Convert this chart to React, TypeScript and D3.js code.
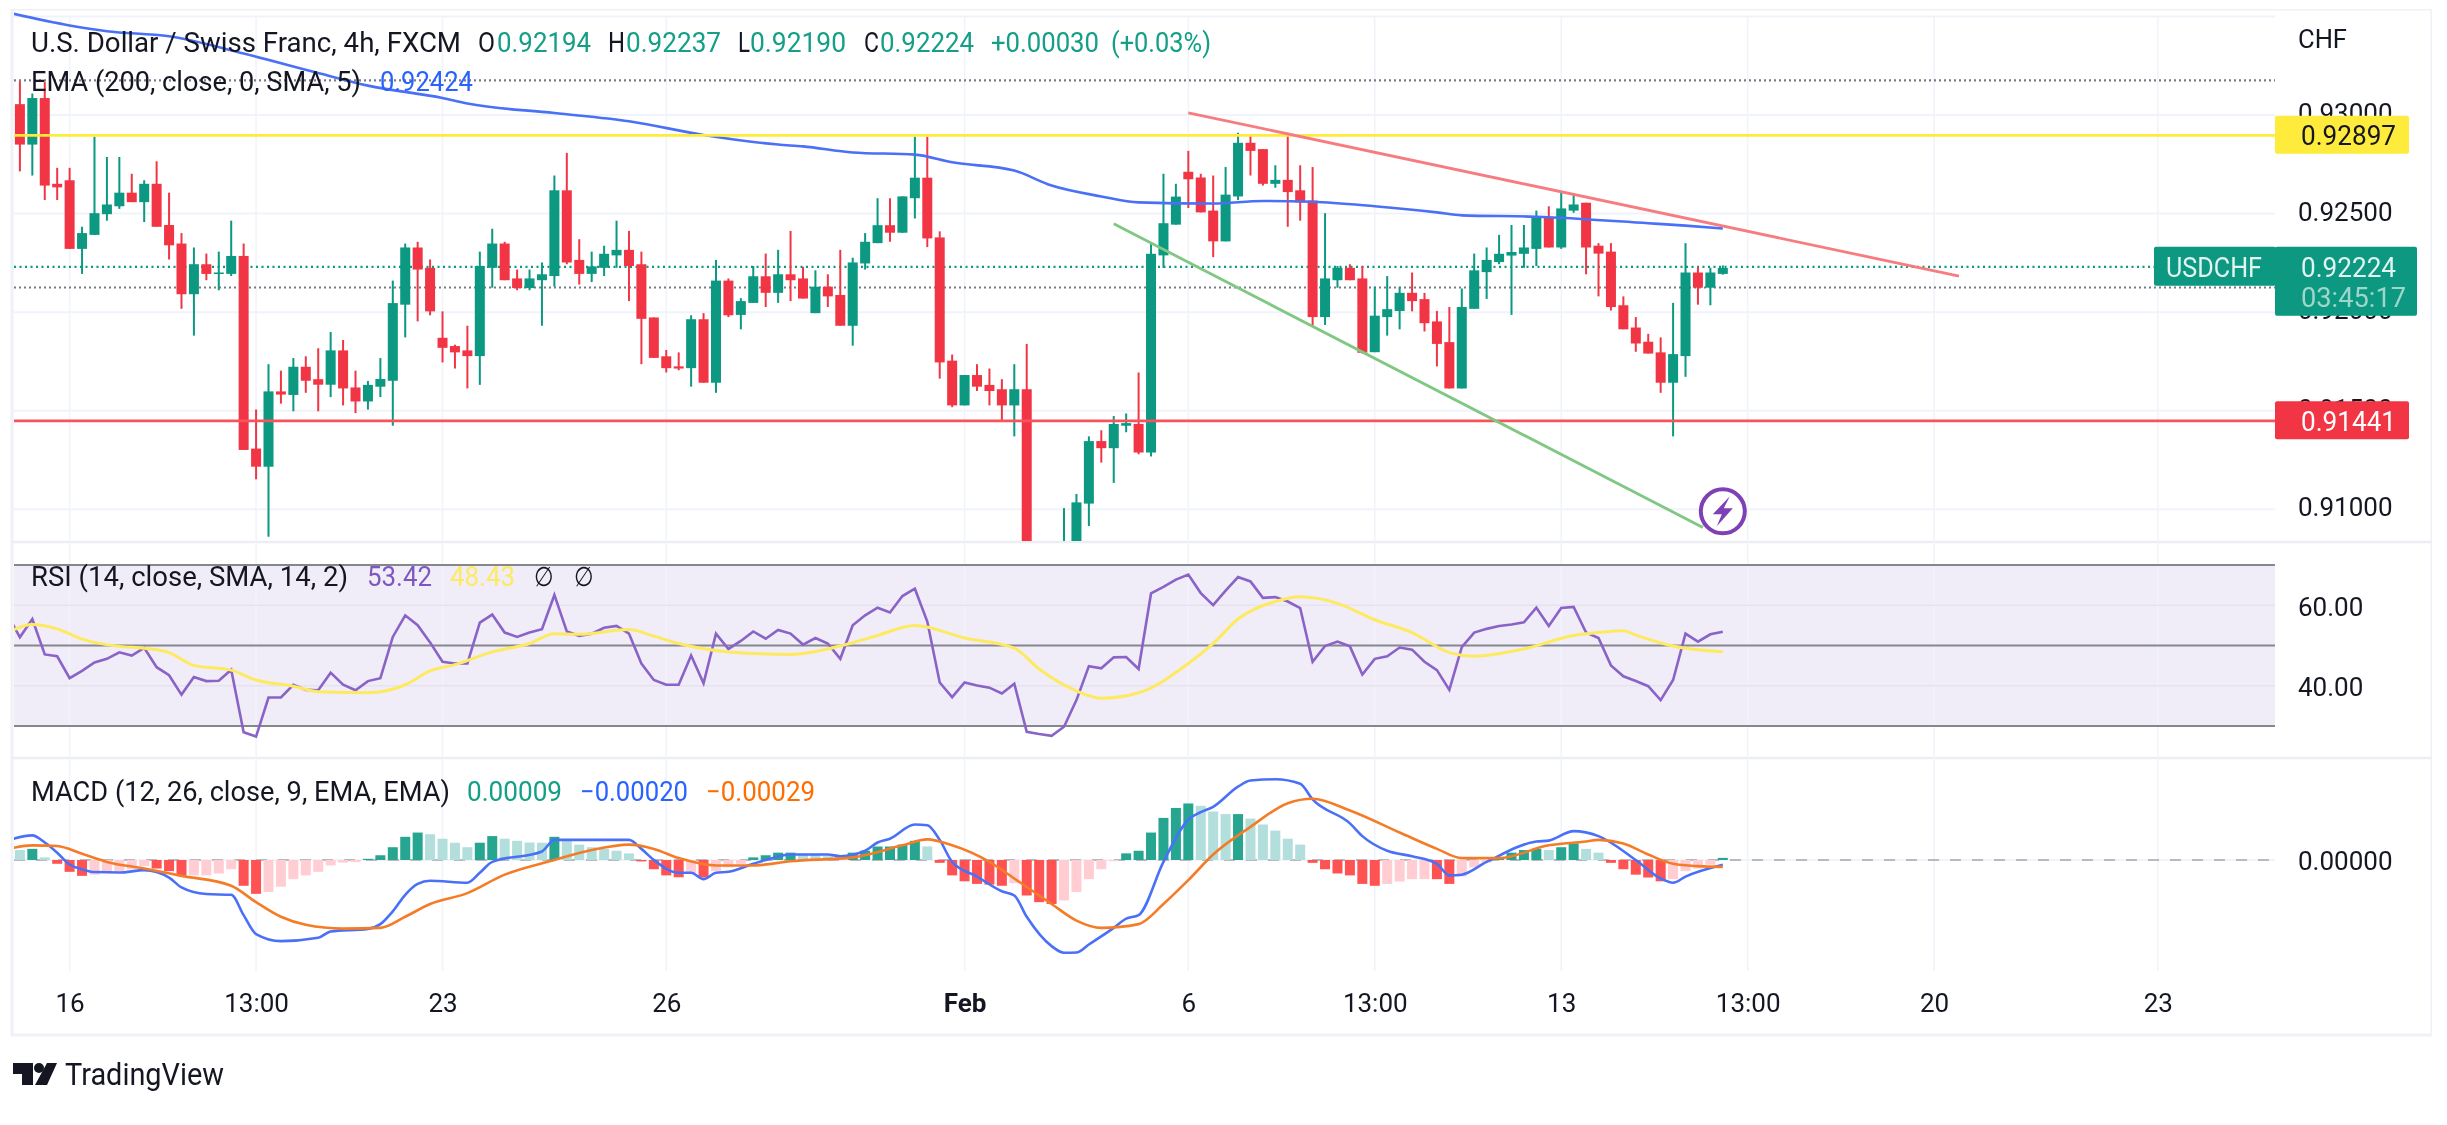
import React, { useEffect, useRef } from 'react';
import * as d3 from 'd3';

// prices are in 1e-5 CHF
const opens = [93055,92850,93086,92651,92669,92321,92392,92497,92537,92606,92558,92651,92442,92348,92091,92243,92194,92194,92285,91308,91216,91598,91580,91723,91660,91632,91806,91618,91547,91622,91652,92038,92328,92225,91870,91828,91806,91777,92225,92348,92171,92122,92162,92183,92618,92265,92194,92225,92288,92316,92243,91973,91776,91725,91716,91964,91642,92160,91986,92047,92182,92098,92192,92171,91995,92129,92087,91931,92247,92350,92441,92403,92578,92682,92379,91754,91527,91681,91631,91609,91527,91609,90780,90650,90700,90800,91029,91346,91310,91424,91433,91288,92288,92444,92712,92683,92515,92359,92587,92859,92827,92651,92671,92618,92566,91975,92162,92225,92171,91797,91975,92006,92098,92066,91953,91848,91613,92017,92203,92254,92287,92296,92321,92484,92328,92515,92555,92337,92307,92035,91922,91850,91796,91642,91777,92201,92124,92194];
const closes = [92850,93086,92642,92633,92321,92401,92502,92546,92606,92558,92651,92433,92339,92091,92243,92194,92201,92285,91301,91216,91598,91582,91723,91652,91632,91806,91613,91547,91631,91661,92046,92328,92216,92004,91819,91796,91777,92234,92348,92162,92122,92171,92192,92618,92252,92194,92232,92296,92316,92234,91966,91768,91716,91714,91964,91642,92160,91984,92056,92182,92098,92192,92162,92069,92129,92080,91931,92252,92357,92441,92403,92587,92682,92374,91745,91527,91681,91622,91600,91527,91609,90780,90700,90740,90800,91035,91346,91310,91433,91437,91288,92296,92451,92586,92674,92506,92359,92596,92859,92818,92651,92671,92609,92557,91975,92171,92225,92162,91794,91982,92015,92098,92056,91944,91839,91613,92026,92212,92265,92296,92305,92328,92484,92328,92526,92546,92328,92297,92026,91913,91841,91790,91642,91787,92201,92124,92201,92224];
const highs = [93171,93109,93167,92732,92732,92433,92890,92787,92787,92702,92669,92765,92606,92401,92328,92297,92307,92464,92348,91506,91736,91703,91767,91776,91817,91899,91859,91703,91651,91767,92160,92348,92357,92267,92004,91835,91931,92307,92423,92357,92216,92216,92252,92693,92808,92370,92307,92337,92464,92412,92307,91973,91808,91796,91984,91995,92265,92171,92071,92234,92297,92316,92412,92230,92212,92192,92316,92276,92401,92578,92578,92587,92890,92890,92410,91785,91681,91736,91714,91660,91736,91839,90810,90790,91006,91078,91370,91401,91473,91486,91694,92346,92702,92651,92818,92702,92693,92736,92910,92901,92827,92745,92910,92745,92736,92502,92234,92243,92234,92129,92183,92129,92201,92098,92006,92026,92120,92297,92328,92392,92442,92442,92515,92537,92609,92596,92555,92350,92350,92080,91975,91890,91872,92047,92350,92229,92225,92237];
const lows = [92714,92693,92569,92569,92321,92194,92392,92464,92524,92558,92457,92433,92267,92017,91881,92162,92111,92183,91301,91152,90861,91536,91497,91591,91497,91569,91527,91488,91506,91569,91424,91872,91953,91984,91745,91714,91613,91631,92124,92162,92111,92111,91931,92129,92243,92140,92153,92183,92225,92056,91736,91768,91694,91705,91622,91642,91591,91975,91913,92047,92026,92047,92056,92069,91995,92026,91931,91830,92216,92350,92357,92403,92475,92330,91663,91518,91527,91600,91527,91449,91370,90760,90650,90610,90680,90757,90915,91237,91134,91391,91279,91268,92225,92444,92528,92506,92279,92359,92569,92693,92642,92631,92433,92464,91926,91935,92124,92162,91790,91797,91881,91913,92004,91902,91725,91613,91613,92017,92067,92243,91986,92225,92234,92328,92321,92504,92192,92080,92008,91913,91799,91790,91591,91370,91672,92038,92035,92190];

// EMA 200, read at its bends
const emaBars = [-1,4,7,12,18,24,28,34,36,43,49,55,61,63,67,72,75,80,83,87,90,96,100,104,109,114,116,122,131,134,137];
const emaValues = [93520,93454,93425,93399,93312,93213,93149,93086,93058,93010,92968,92899,92850,92841,92810,92799,92760,92718,92642,92587,92557,92551,92564,92560,92537,92506,92491,92484,92451,92439,92424];

// first RSI value belongs to the bar before the left edge
const rsiValues = [57.67,52.04,56.58,47.78,47.33,41.88,43.7,45.79,46.69,48.32,47.51,49.41,44.61,42.61,37.8,42.16,41.16,41.25,43.97,28.46,27.37,37.08,37.08,40.25,38.98,38.89,43.25,40.25,38.89,41.16,41.88,52.13,57.49,55.04,50.77,45.97,45.51,45.51,55.67,57.67,53.22,52.13,53.22,54.04,62.56,53.49,52.41,52.95,54.4,54.85,52.95,45.51,41.43,40.25,40.25,47.51,40.62,52.95,49.14,51.14,53.49,51.68,53.86,52.95,50.23,51.86,50.5,46.69,55.04,57.49,59.39,58.21,62.29,64.11,55.94,40.8,37.17,40.8,40.07,39.53,38.08,40.52,28.55,28.01,27.55,29.82,36.44,44.88,44.33,47.06,47.15,44.15,62.93,64.56,66.37,67.64,63.02,60.03,63.65,67.01,65.92,61.84,62.02,60.93,59.3,45.97,49.87,50.96,49.78,42.79,46.69,47.33,49.5,48.96,45.97,43.88,38.98,49.59,53.22,54.13,54.85,55.22,55.76,59.39,54.85,59.3,59.57,53.22,51.86,45.06,42.34,41.16,39.89,36.44,41.43,52.95,50.96,52.77,53.42];
const rsiSmaBars = [-1,1,3,5,8,10,12,14,17,19,22,24,28,31,33,35,38,41,43,45,49,51,53,57,62,66,69,72,76,80,82,85,87,90,94,96,98,101,103,106,109,112,115,117,121,125,127,129,130,133,137];
const rsiSmaValues = [53.2,55.22,54.13,51.59,49.78,49.32,48.23,45.06,43.88,41.43,39.89,38.53,38.26,40.25,43.7,45.24,48.41,50.5,52.95,52.77,53.95,52.32,50.5,48.41,47.78,49.87,52.5,54.95,51.86,49.32,44.15,38.71,36.9,38.26,45.51,50.5,56.58,60.93,62.11,60.48,56.4,53.22,48.23,47.33,49.14,52.5,53.22,53.68,52.59,49.87,48.43];

// MACD values are in 1e-5
const macdBars = [-1,1,2,3,4,5,6,8,10,12,13,15,17,18,19,21,24,25,28,29,30,31,32,33,36,37,38,42,43,49,50,51,53,54,55,56,57,59,60,62,65,66,68,69,70,72,73,74,75,77,79,80,81,83,84,85,86,88,89,90,92,94,95,96,98,99,101,103,104,107,108,110,112,114,115,116,118,122,123,125,127,130,132,133,134,137];
const macdValues = [82,104,74,31,-19,-39,-51,-53,-43,-74,-116,-144,-147,-233,-313,-343,-329,-302,-291,-271,-217,-147,-101,-88,-96,-54,-8,36,85,85,47,0,-54,-54,-81,-54,-50,-16,0,23,23,16,39,74,90,150,147,85,-8,-70,-132,-150,-240,-364,-392,-391,-357,-287,-248,-233,-8,171,202,225,310,336,341,322,256,155,101,39,16,-16,-65,-62,-8,78,82,122,101,0,-78,-96,-70,-20];
const signalBars = [-1,1,3,5,7,10,13,17,19,21,23,26,29,31,33,36,39,43,46,49,51,53,56,59,62,67,71,73,75,78,80,83,85,87,90,92,94,96,99,102,104,107,111,114,116,119,123,126,127,129,131,133,135,137];
const signalValues = [46,62,59,26,-8,-36,-67,-109,-178,-240,-274,-290,-287,-240,-186,-140,-62,0,42,65,47,8,-23,-23,-5,11,62,87,62,-8,-78,-186,-256,-287,-271,-186,-85,23,140,240,259,209,116,47,8,8,62,78,85,70,23,-16,-26,-29];
const histValues = [42,47,11,-16,-50,-67,-62,-51,-47,-39,-26,-36,-47,-65,-65,-65,-57,-39,-109,-143,-135,-113,-81,-65,-50,-23,-11,-9,5,20,54,98,116,109,90,73,54,73,101,90,81,74,73,98,81,65,54,47,39,28,-6,-39,-65,-73,-54,-74,-47,-31,-16,11,20,31,31,23,23,16,11,31,39,57,57,65,81,57,-12,-65,-90,-101,-104,-109,-98,-150,-178,-186,-171,-135,-81,-39,-5,28,39,116,178,220,239,229,205,194,194,175,150,124,90,65,-12,-39,-57,-65,-101,-109,-101,-91,-81,-81,-81,-101,-70,-31,-11,5,31,42,47,42,54,70,47,31,-12,-39,-62,-74,-90,-81,-47,-36,-20,9];
const histStrong = [1,3,4,5,11,12,13,18,19,28,29,30,31,32,37,38,43,50,51,52,53,55,59,60,61,62,67,68,69,70,71,72,74,75,76,77,78,79,81,82,83,89,90,91,92,93,94,98,104,105,106,107,108,109,114,115,119,120,121,122,124,125,128,129,130,131,132,137];

const timeBars = [4,19,34,52,76,94,109,124,139,154,172];
const timeLabels = ['16','13:00','23','26','Feb','6','13:00','13','13:00','20','23'];
const priceGrid = [0.935,0.93,0.925,0.92,0.915,0.91];
const priceTicks = [0.93,0.925,0.92,0.915,0.91];
const rsiGrid = [60,40];
const rsiBands = [70,50,30];

const resistance = 0.92897;
const support = 0.91449;
const lastPrice = 0.9223;
const dottedLevels = [0.93176,0.92125];
const redTrendBars = [94,156];
const redTrendValues = [0.93011,0.92183];
const greenTrendBars = [88,135.4];
const greenTrendValues = [0.92448,0.90908];

const UP = '#089981';
const DOWN = '#f23645';
const FONT = 'Roboto, sans-serif';
const TEXT = '#131722';

const App: React.FC = () => {
  const chartRef = useRef<SVGSVGElement | null>(null);

  useEffect(() => {
    if (!chartRef.current) return;
    const root = d3.select(chartRef.current);
    root.selectAll('*').remove();

    const left = 14;
    const right = 2275;
    const priceTop = 10;
    const priceBottom = 541;
    const macdTop = 758;
    const gridBottom = 971;

    const x = d3.scaleLinear().domain([0, 172]).range([19.9, 19.9 + 172 * 12.43]);
    const y = d3.scaleLinear().domain([0.91, 0.93]).range([509.3, 115]);
    const yRsi = d3.scaleLinear().domain([30, 70]).range([726, 565]);
    const yMacd = d3.scaleLinear().domain([-400, 400]).range([860 + 400 * 0.2366, 860 - 400 * 0.2366]);

    const defs = root.append('defs');
    defs.append('clipPath').attr('id', 'price-clip').append('rect')
      .attr('x', left).attr('y', priceTop).attr('width', right - left).attr('height', priceBottom - priceTop);
    defs.append('clipPath').attr('id', 'rsi-clip').append('rect')
      .attr('x', left).attr('y', 543).attr('width', right - left).attr('height', 213);
    defs.append('clipPath').attr('id', 'macd-clip').append('rect')
      .attr('x', left).attr('y', macdTop).attr('width', right - left).attr('height', gridBottom - macdTop);
    defs.append('filter').attr('id', 'soft').attr('x', 0).attr('y', 0).attr('width', 1).attr('height', 1)
      .append('feGaussianBlur').attr('stdDeviation', 0.7);

    root.append('rect').attr('width', 2447).attr('height', 1125).attr('fill', '#fff');
    const svg = root.append('g').attr('filter', 'url(#soft)');

    // frame and pane separators
    svg.append('rect').attr('x', 12).attr('y', 9).attr('width', 2420).attr('height', 1026)
      .attr('fill', 'none').attr('stroke', '#eff1f6').attr('stroke-width', 3);
    [priceBottom + 1, macdTop].forEach((sy) => {
      svg.append('line').attr('x1', 12).attr('x2', 2432).attr('y1', sy).attr('y2', sy)
        .attr('stroke', '#eceef4').attr('stroke-width', 2.5);
    });

    // RSI band background
    svg.append('rect').attr('x', left).attr('y', yRsi(70)).attr('width', right - left)
      .attr('height', yRsi(30) - yRsi(70)).attr('fill', '#f0edf8');

    // grid
    svg.append('g').selectAll('line').data(timeBars).enter().append('line')
      .attr('x1', (d) => x(d)).attr('x2', (d) => x(d)).attr('y1', 16).attr('y2', gridBottom)
      .attr('stroke', '#f0f3fa').attr('stroke-width', 1.5);
    svg.append('g').selectAll('line').data(priceGrid).enter().append('line')
      .attr('x1', left).attr('x2', right).attr('y1', (d) => y(d)).attr('y2', (d) => y(d))
      .attr('stroke', '#f0f3fa').attr('stroke-width', 2);
    svg.append('g').selectAll('line').data(rsiGrid).enter().append('line')
      .attr('x1', left).attr('x2', right).attr('y1', (d) => yRsi(d)).attr('y2', (d) => yRsi(d))
      .attr('stroke', '#e6e3ef').attr('stroke-width', 1.5);
    svg.append('g').selectAll('line').data(rsiBands).enter().append('line')
      .attr('x1', left).attr('x2', right).attr('y1', (d) => yRsi(d)).attr('y2', (d) => yRsi(d))
      .attr('stroke', '#85878f').attr('stroke-width', 2.2);

    // levels behind the candles
    dottedLevels.forEach((p) => {
      svg.append('line').attr('x1', left).attr('x2', right).attr('y1', y(p)).attr('y2', y(p))
        .attr('stroke', '#787b86').attr('stroke-width', 2.2).attr('stroke-dasharray', '2 3');
    });
    svg.append('line').attr('x1', left).attr('x2', right).attr('y1', y(lastPrice)).attr('y2', y(lastPrice))
      .attr('stroke', UP).attr('stroke-width', 2.2).attr('stroke-dasharray', '2 3.5');

    // candles
    const pricePane = svg.append('g').attr('clip-path', 'url(#price-clip)');
    const bars = d3.range(opens.length);
    const col = (i: number) => (closes[i] >= opens[i] ? UP : DOWN);
    pricePane.append('g').selectAll('line').data(bars).enter().append('line')
      .attr('x1', (i) => x(i)).attr('x2', (i) => x(i))
      .attr('y1', (i) => y(highs[i] / 1e5)).attr('y2', (i) => y(lows[i] / 1e5))
      .attr('stroke', col).attr('stroke-width', 2);
    pricePane.append('g').selectAll('rect').data(bars).enter().append('rect')
      .attr('x', (i) => x(i) - 5)
      .attr('y', (i) => y(Math.max(opens[i], closes[i]) / 1e5))
      .attr('width', 10)
      .attr('height', (i) => Math.max(1.5, Math.abs(y(opens[i] / 1e5) - y(closes[i] / 1e5))))
      .attr('fill', col);

    // EMA
    const emaLine = d3.line<number>()
      .x((b) => x(b))
      .y((_, i) => y(emaValues[i] / 1e5))
      .curve(d3.curveMonotoneX);
    pricePane.append('path').attr('d', emaLine(emaBars)).attr('fill', 'none')
      .attr('stroke', '#4a70f6').attr('stroke-width', 2.6);

    // horizontal levels
    pricePane.append('line').attr('x1', left).attr('x2', right).attr('y1', y(resistance)).attr('y2', y(resistance))
      .attr('stroke', '#ffeb3b').attr('stroke-width', 2.8);
    pricePane.append('line').attr('x1', left).attr('x2', right).attr('y1', y(support)).attr('y2', y(support))
      .attr('stroke', '#f7525f').attr('stroke-width', 2.8);

    // trend lines
    pricePane.append('line')
      .attr('x1', x(redTrendBars[0])).attr('y1', y(redTrendValues[0]))
      .attr('x2', x(redTrendBars[1])).attr('y2', y(redTrendValues[1]))
      .attr('stroke', '#f77c80').attr('stroke-width', 2.8);
    pricePane.append('line')
      .attr('x1', x(greenTrendBars[0])).attr('y1', y(greenTrendValues[0]))
      .attr('x2', x(greenTrendBars[1])).attr('y2', y(greenTrendValues[1]))
      .attr('stroke', '#81c784').attr('stroke-width', 2.8);

    // flash icon
    const icon = svg.append('g').attr('transform', `translate(${x(137)},${y(0.9099)})`);
    icon.append('circle').attr('r', 22).attr('fill', '#fff').attr('stroke', '#7e3fb5').attr('stroke-width', 4);
    icon.append('path').attr('d', 'M7,-15 L-10,3 L-1,3 L-6,15 L10,-3 L1,-3 Z').attr('fill', '#7e3fb5');

    // RSI
    const rsiPane = svg.append('g').attr('clip-path', 'url(#rsi-clip)');
    const rsiLine = d3.line<number>().x((_, i) => x(i - 1)).y((d) => yRsi(d));
    rsiPane.append('path').attr('d', rsiLine(rsiValues)).attr('fill', 'none')
      .attr('stroke', '#8a63c7').attr('stroke-width', 2.6);
    const smaLine = d3.line<number>()
      .x((b) => x(b))
      .y((_, i) => yRsi(rsiSmaValues[i]))
      .curve(d3.curveMonotoneX);
    rsiPane.append('path').attr('d', smaLine(rsiSmaBars)).attr('fill', 'none')
      .attr('stroke', '#fdea60').attr('stroke-width', 3);

    // MACD
    const macdPane = svg.append('g');
    macdPane.append('line').attr('x1', left).attr('x2', right).attr('y1', yMacd(0)).attr('y2', yMacd(0))
      .attr('stroke', '#f0f3fa').attr('stroke-width', 2);
    macdPane.append('line').attr('x1', left).attr('x2', right).attr('y1', yMacd(0)).attr('y2', yMacd(0))
      .attr('stroke', '#b8bac2').attr('stroke-width', 2).attr('stroke-dasharray', '11 11');
    macdPane.append('g').selectAll('rect').data(histValues).enter().append('rect')
      .attr('x', (_, i) => x(i) - 5)
      .attr('y', (d) => Math.min(yMacd(d), yMacd(0)))
      .attr('width', 10)
      .attr('height', (d) => Math.abs(yMacd(d) - yMacd(0)))
      .attr('fill', (d, i) => {
        const strong = histStrong.includes(i);
        if (d >= 0) return strong ? '#26a690' : '#b2dfdb';
        return strong ? '#ff5252' : '#ffcdd2';
      });
    const sigLine = d3.line<number>()
      .x((b) => x(b))
      .y((_, i) => yMacd(signalValues[i]))
      .curve(d3.curveMonotoneX);
    const macLine = d3.line<number>()
      .x((b) => x(b))
      .y((_, i) => yMacd(macdValues[i]))
      .curve(d3.curveMonotoneX);
    macdPane.append('path').attr('clip-path', 'url(#macd-clip)').attr('d', macLine(macdBars)).attr('fill', 'none')
      .attr('stroke', '#4a70f6').attr('stroke-width', 2.6);
    macdPane.append('path').attr('clip-path', 'url(#macd-clip)').attr('d', sigLine(signalBars)).attr('fill', 'none')
      .attr('stroke', '#f57c28').attr('stroke-width', 2.6);

    // axes
    const styleAxis = (dy: string) => (g: d3.Selection<SVGGElement, unknown, null, undefined>) => {
      g.select('.domain').remove();
      g.selectAll('text').attr('font-family', FONT).attr('font-size', 26).attr('fill', TEXT);
      if (dy) g.selectAll('text').attr('dy', dy);
    };
    svg.append('g').attr('transform', `translate(${right},0)`)
      .call(d3.axisRight(y).tickValues(priceTicks).tickFormat(d3.format('.5f') as any).tickSize(0).tickPadding(23))
      .call(styleAxis('0.25em'));
    svg.append('g').attr('transform', `translate(${right},0)`)
      .call(d3.axisRight(yRsi).tickValues(rsiGrid).tickFormat(d3.format('.2f') as any).tickSize(0).tickPadding(23))
      .call(styleAxis('0.38em'));
    svg.append('g').attr('transform', `translate(${right},0)`)
      .call(d3.axisRight(yMacd).tickValues([0]).tickFormat(d3.format('.5f') as any).tickSize(0).tickPadding(23))
      .call(styleAxis('0.36em'));
    const timeAxis = svg.append('g').attr('transform', `translate(0,${gridBottom})`)
      .call(d3.axisBottom(x).tickValues(timeBars).tickFormat((_, i) => timeLabels[i]).tickSize(0).tickPadding(23))
      .call(styleAxis(''));
    timeAxis.selectAll('text').filter((d) => d === 76).attr('font-weight', 700);

    // price labels
    const tag = (tx: number, tw: number, ty: number, th: number, fill: string) =>
      svg.append('rect').attr('x', tx).attr('y', ty).attr('width', tw).attr('height', th).attr('rx', 2).attr('fill', fill);
    const label = (s: string, lx: number, ly: number, w: number, size: number, fill: string, weight = 400) =>
      svg.append('text').attr('x', lx).attr('y', ly).text(s)
        .attr('font-family', FONT).attr('font-size', size).attr('font-weight', weight).attr('fill', fill)
        .attr('textLength', w).attr('lengthAdjust', 'spacingAndGlyphs');

    tag(right, 134, y(resistance) - 19.5, 38, '#ffeb3b');
    label('0.92897', 2301, y(resistance) + 10, 95, 27, '#131722');
    tag(right, 134, y(support) - 19.5, 38, DOWN);
    label('0.91441', 2301, y(support) + 10, 95, 27, '#fff');
    tag(2154, 122, y(lastPrice) - 20, 39, UP);
    tag(right, 142, y(lastPrice) - 20, 69, UP);
    label('USDCHF', 2166, 277, 96, 27, '#e3f3f0');
    label('0.92224', 2301, 277, 95, 27, '#e3f3f0');
    label('03:45:17', 2301, 307, 105, 27, '#9fd6cb');
    label('CHF', 2298, 48, 49, 26, TEXT);

    // legend
    const legendGreen = '#129e86';
    label('U.S. Dollar / Swiss Franc, 4h, FXCM', 31, 52, 430, 27, TEXT);
    label('O', 478, 52, 17, 27, TEXT);
    label('0.92194', 497, 52, 94, 27, legendGreen);
    label('H', 608, 52, 17, 27, TEXT);
    label('0.92237', 626, 52, 95, 27, legendGreen);
    label('L', 738, 52, 12, 27, TEXT);
    label('0.92190', 750, 52, 96, 27, legendGreen);
    label('C', 864, 52, 15, 27, TEXT);
    label('0.92224', 880, 52, 94, 27, legendGreen);
    label('+0.00030', 991, 52, 108, 27, legendGreen);
    label('(+0.03%)', 1111, 52, 100, 27, legendGreen);
    label('EMA (200, close, 0, SMA, 5)', 31, 91, 330, 27, TEXT);
    label('0.92424', 380, 91, 93, 27, '#2962ff');
    label('RSI (14, close, SMA, 14, 2)', 31, 586, 317, 27, TEXT);
    label('53.42', 367, 586, 65, 27, '#7e57c2');
    label('48.43', 450, 586, 65, 27, '#fdea60');
    label('∅', 534, 586, 20, 27, TEXT);
    label('∅', 574, 586, 20, 27, TEXT);
    label('MACD (12, 26, close, 9, EMA, EMA)', 31, 801, 419, 27, TEXT);
    label('0.00009', 467, 801, 95, 27, legendGreen);
    label('−0.00020', 580, 801, 108, 27, '#2962ff');
    label('−0.00029', 706, 801, 109, 27, '#ff6d00');

    // logo
    const logo = svg.append('g').attr('fill', '#131722');
    logo.append('path').attr('d', 'M13,1063 H33 V1085 H22 V1074 H13 Z');
    logo.append('circle').attr('cx', 39).attr('cy', 1068).attr('r', 5);
    logo.append('path').attr('d', 'M47,1063 H57 L47,1085 H35 Z');
    label('TradingView', 65, 1085, 159, 31, '#131722');
  }, []);

  return (
    <svg ref={chartRef} width={2447} height={1125} style={{ position: 'absolute', left: 0, top: 0 }} />
  );
};

export default App;
